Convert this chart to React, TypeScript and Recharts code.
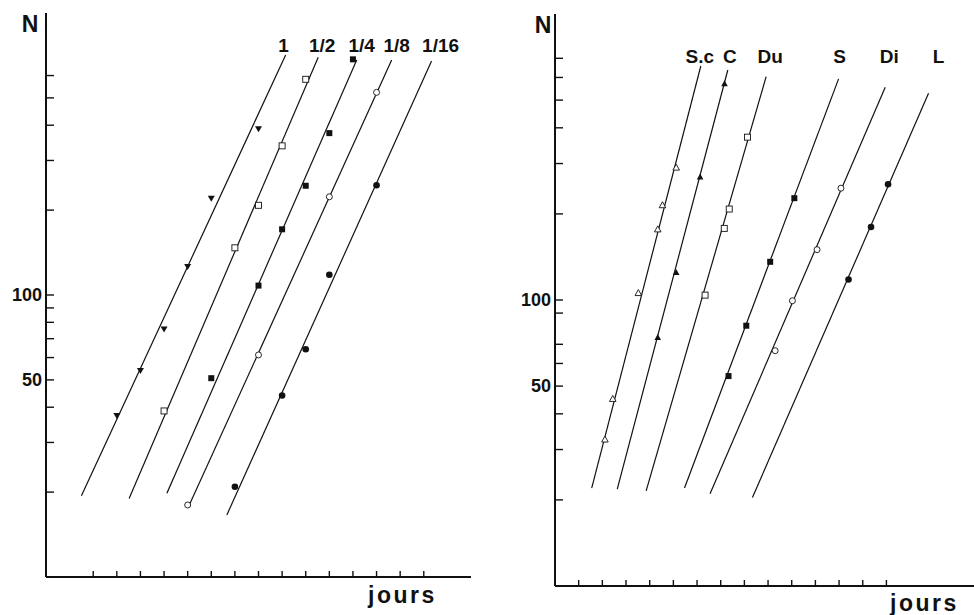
import { ComposedChart, Line, Scatter, XAxis, YAxis } from 'recharts';

const FONT = '"Liberation Sans", Arial, Helvetica, sans-serif';
const INK = '#111';

// left panel: dilution series
const LEFT_SERIES = ['1', '1/2', '1/4', '1/8', '1/16'];
const LEFT_MARKERS = ['triangleDown', 'squareOpen', 'square', 'circleOpen', 'circle'];
const LEFT_DAYS = [
  [3, 4, 5, 6, 7, 9],
  [5, 8, 9, 10, 11],
  [7, 9, 10, 11, 12, 13],
  [6, 9, 12, 14],
  [8, 10, 11, 12, 14],
];
const LEFT_N = [
  [37.3, 53.9, 75.6, 126, 220, 388],
  [38.8, 147, 208, 338, 582],
  [50.7, 108, 171, 244, 375, 685],
  [18, 61.3, 223, 523],
  [20.9, 44, 64.2, 118, 245],
];
const LEFT_FIT_DAYS = [
  [1.5, 10.15],
  [3.52, 11.53],
  [5.12, 13.16],
  [6.03, 14.64],
  [7.66, 16.33],
];
const LEFT_FIT_N = [
  [19.4, 710],
  [19.0, 697],
  [19.8, 681],
  [17.7, 681],
  [16.6, 676],
];

// right panel: media series
const RIGHT_SERIES = ['S.c', 'C', 'Du', 'S', 'Di', 'L'];
const RIGHT_MARKERS = ['triangleOpen', 'triangle', 'squareOpen', 'square', 'circleOpen', 'circle'];
const RIGHT_DAYS = [
  [2.11, 2.44, 3.52, 4.34, 4.54, 5.12],
  [4.34, 5.12, 6.13, 7.16],
  [6.34, 7.15, 7.36, 8.13],
  [7.33, 8.08, 9.09, 10.11],
  [9.3, 10.03, 11.07, 12.08],
  [12.4, 13.35, 14.07],
];
const RIGHT_N = [
  [32.6, 45.2, 106, 177, 215, 291],
  [74.1, 125, 270, 572],
  [104, 178, 208, 371],
  [54.2, 81.3, 136, 227],
  [66.5, 99.4, 150, 246],
  [118, 180, 254],
];
const RIGHT_FIT_DAYS = [
  [1.55, 6.16],
  [2.63, 7.3],
  [3.85, 8.92],
  [5.47, 11.98],
  [6.55, 13.95],
  [8.34, 15.78],
];
const RIGHT_FIT_N = [
  [22, 658],
  [21.8, 637],
  [21.5, 604],
  [22, 593],
  [21, 554],
  [20.4, 528],
];

const LEFT_X_TICKS = [2, 3, 4, 5, 6, 7, 8, 9, 10, 11, 12, 13, 14, 15, 16];
const RIGHT_X_TICKS = [1, 2, 3, 4, 5, 6, 7, 8, 9, 10, 11, 12, 13, 14];
const LEFT_Y_TICKS = [20, 30, 40, 50, 60, 70, 80, 90, 100, 200, 300, 400, 500, 600];
const RIGHT_Y_TICKS = [20, 30, 40, 50, 60, 70, 90, 100, 200, 300, 400, 500, 600, 700];
const Y_LABELS = [50, 100];

// series label nudges (px) relative to the top end of each fitted line
const LEFT_LABEL_DX = [-2, 4, 5, 5, 9];
const RIGHT_LABEL_DX = [-1, 2, 4, 1, 4, 10];

const toPoints = (xs: number[], ys: number[]) => xs.map((x, i) => ({ x, y: ys[i] }));

function Marker({ cx, cy, kind }: { cx: number; cy: number; kind: string }) {
  if (cx == null || cy == null) return null;
  const r = 3;
  switch (kind) {
    case 'triangleDown':
      return <path d={`M${cx - 3.5},${cy - 2.8} L${cx + 3.5},${cy - 2.8} L${cx},${cy + 3.2} Z`} fill={INK} />;
    case 'triangle':
      return <path d={`M${cx - 3.3},${cy + 2.8} L${cx + 3.3},${cy + 2.8} L${cx},${cy - 3.2} Z`} fill={INK} />;
    case 'triangleOpen':
      return (
        <path
          d={`M${cx - 3.3},${cy + 2.8} L${cx + 3.3},${cy + 2.8} L${cx},${cy - 3.2} Z`}
          fill="#fff"
          stroke={INK}
          strokeWidth={0.9}
        />
      );
    case 'square':
      return <rect x={cx - r} y={cy - r} width={2 * r} height={2 * r} fill={INK} />;
    case 'squareOpen':
      return <rect x={cx - r} y={cy - r} width={2 * r} height={2 * r} fill="#fff" stroke={INK} strokeWidth={0.9} />;
    case 'circleOpen':
      return <circle cx={cx} cy={cy} r={r} fill="#fff" stroke={INK} strokeWidth={0.9} />;
    default:
      return <circle cx={cx} cy={cy} r={r + 0.3} fill={INK} />;
  }
}

// ticks point inwards, like the hand-drawn original
function YTick({ x, y, payload }: any) {
  const v = payload?.value;
  return (
    <g>
      <line x1={x} x2={x + 8} y1={y} y2={y} stroke={INK} strokeWidth={1.4} />
      {Y_LABELS.includes(v) && (
        <text x={x - 4} y={y + 6} textAnchor="end" fontFamily={FONT} fontWeight={700} fontSize={18} fill={INK}>
          {v}
        </text>
      )}
    </g>
  );
}

function XTick({ x, y }: any) {
  return <line x1={x} x2={x} y1={y} y2={y - 6} stroke={INK} strokeWidth={1.4} />;
}

interface PanelProps {
  names: string[];
  markers: string[];
  days: number[][];
  counts: number[][];
  fitDays: number[][];
  fitN: number[][];
  xTicks: number[];
  yTicks: number[];
  xMax: number;
  labelDx: number[];
  labelY: number;
  width: number;
  yAxisWidth: number;
  top: number;
  bottom: number;
  right: number;
}

function Panel(p: PanelProps) {
  return (
    <ComposedChart
      width={p.width}
      height={615}
      margin={{ top: p.top, right: p.right, bottom: 0, left: 0 }}
    >
      <XAxis
        type="number"
        dataKey="x"
        domain={[0, p.xMax]}
        ticks={p.xTicks}
        interval={0}
        allowDataOverflow
        tickSize={0}
        tickMargin={0}
        tickLine={false}
        tick={<XTick />}
        axisLine={{ stroke: INK, strokeWidth: 2 }}
        height={p.bottom}
      />
      <YAxis
        type="number"
        dataKey="y"
        scale="log"
        domain={[10, 1000]}
        ticks={p.yTicks}
        interval={0}
        allowDataOverflow
        tickSize={0}
        tickMargin={0}
        tickLine={false}
        tick={<YTick />}
        width={p.yAxisWidth}
        axisLine={{ stroke: INK, strokeWidth: 2 }}
      />
      {p.names.map((name, i) => (
        <Line
          key={`fit-${name}`}
          data={toPoints(p.fitDays[i], p.fitN[i])}
          dataKey="y"
          stroke={INK}
          strokeWidth={1.2}
          dot={false}
          isAnimationActive={false}
          label={(lp: any) =>
            lp.index === 1 ? (
              <text
                key={`lab-${name}`}
                x={lp.x + p.labelDx[i]}
                y={p.labelY}
                textAnchor="middle"
                fontFamily={FONT}
                fontWeight={700}
                fontSize={19}
                fill={INK}
              >
                {name}
              </text>
            ) : null
          }
        />
      ))}
      {p.names.map((name, i) => (
        <Scatter
          key={`pts-${name}`}
          data={toPoints(p.days[i], p.counts[i])}
          dataKey="y"
          isAnimationActive={false}
          shape={(sp: any) => <Marker cx={sp.cx} cy={sp.cy} kind={p.markers[i]} />}
        />
      ))}
    </ComposedChart>
  );
}

export default function App() {
  const textStyle = { fontFamily: FONT, fontWeight: 700, fill: INK };
  return (
    <div style={{ position: 'absolute', left: 0, top: 0, width: 974, height: 615, background: '#fff', overflow: 'hidden' }}>
      <div style={{ position: 'absolute', left: 0, top: 0 }}>
        <Panel
          names={LEFT_SERIES}
          markers={LEFT_MARKERS}
          days={LEFT_DAYS}
          counts={LEFT_N}
          fitDays={LEFT_FIT_DAYS}
          fitN={LEFT_FIT_N}
          xTicks={LEFT_X_TICKS}
          yTicks={LEFT_Y_TICKS}
          xMax={18}
          labelDx={LEFT_LABEL_DX}
          labelY={52}
          width={480}
          yAxisWidth={46}
          top={13}
          bottom={38}
          right={9}
        />
      </div>
      <div style={{ position: 'absolute', left: 490, top: 0 }}>
        <Panel
          names={RIGHT_SERIES}
          markers={RIGHT_MARKERS}
          days={RIGHT_DAYS}
          counts={RIGHT_N}
          fitDays={RIGHT_FIT_DAYS}
          fitN={RIGHT_FIT_N}
          xTicks={RIGHT_X_TICKS}
          yTicks={RIGHT_Y_TICKS}
          xMax={17.7}
          labelDx={RIGHT_LABEL_DX}
          labelY={63}
          width={484}
          yAxisWidth={65}
          top={14}
          bottom={29}
          right={0}
        />
      </div>
      <svg width={974} height={615} style={{ position: 'absolute', left: 0, top: 0, pointerEvents: 'none' }}>
        <text x={30} y={32} textAnchor="middle" fontSize={23} {...textStyle}>N</text>
        <text x={543} y={33} textAnchor="middle" fontSize={23} {...textStyle}>N</text>
        <text x={368} y={603} fontSize={23} letterSpacing={2.5} {...textStyle}>jours</text>
        <text x={890} y={611} fontSize={23} letterSpacing={2.5} {...textStyle}>jours</text>
      </svg>
    </div>
  );
}
